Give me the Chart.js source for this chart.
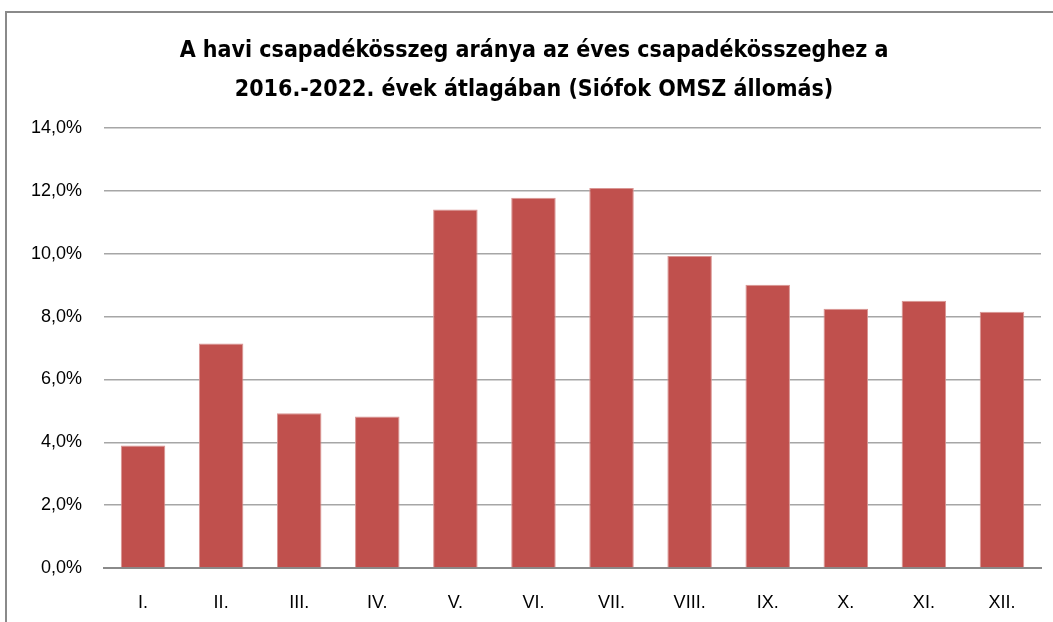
<!DOCTYPE html>
<html>
<head>
<meta charset="utf-8">
<script src="https://cdn.jsdelivr.net/npm/chart.js@4.4.0/dist/chart.umd.min.js"></script>
<style>
  html, body { margin: 0; padding: 0; background: #fff; }
  #wrap { position: relative; width: 1053px; height: 622px; overflow: hidden; }
  #frame { position: absolute; left: 5px; top: 11px; width: 1100px; height: 700px;
           border-left: 2px solid #8a8a8a; border-top: 2px solid #8a8a8a; box-sizing: border-box; }
  canvas { position: absolute; left: 0; top: 0; }
</style>
</head>
<body>
<div id="wrap">
  <div id="frame"></div>
  <canvas id="chartCsapadek" width="1053" height="622"></canvas>
</div>
<script>
const honapok = ['I.', 'II.', 'III.', 'IV.', 'V.', 'VI.', 'VII.', 'VIII.', 'IX.', 'X.', 'XI.', 'XII.'];
const aranyok = [3.90, 7.15, 4.93, 4.82, 11.41, 11.79, 12.10, 9.93, 9.02, 8.25, 8.51, 8.16];
const cim = ['A havi csapadékösszeg aránya az éves csapadékösszeghez a', '2016.-2022. évek átlagában (Siófok OMSZ állomás)'];

const betuCim = "'DejaVu Sans Condensed', 'Open Sans', sans-serif";
const betu = "'Liberation Sans', Arial, sans-serif";

const ctx = document.getElementById('chartCsapadek').getContext('2d');

// a bal padding csak a cím középre igazításához kell, a tengelyfeliratok kilóghatnak
const chartCsapadek = new Chart(ctx, {
    type: 'bar',
    data: {
        labels: honapok,
        datasets: [{
            label: 'Arány',
            data: aranyok,
            backgroundColor: '#C0504D',
            borderColor: '#D99593',
            borderWidth: 1,
            categoryPercentage: 1,
            barPercentage: 0.57
        }]
    },
    options: {
        responsive: false,
        animation: false,
        layout: { padding: { left: 27, right: 12, top: 31, bottom: 0 } },
        plugins: {
            legend: { display: false },
            tooltip: { enabled: false },
            title: {
                display: true,
                text: cim,
                color: '#000',
                font: { family: betuCim, size: 23, weight: 'bold', lineHeight: 1.7 },
                padding: { top: 0, bottom: 19 }
            }
        },
        scales: {
            x: {
                afterFit: (scale) => { scale.height = 54; },
                grid: { display: false, drawTicks: false },
                border: { color: '#8a8a8a', width: 2 },
                ticks: { color: '#000', padding: 24, font: { family: betu, size: 18 } }
            },
            y: {
                min: 0,
                max: 14,
                afterFit: (scale) => { scale.width = 77; },
                grid: { color: '#a6a6a6', lineWidth: 1.5, drawTicks: false },
                border: { display: false },
                ticks: {
                    stepSize: 2,
                    color: '#000',
                    padding: 22,
                    font: { family: betu, size: 18 },
                    callback: (v) => v.toFixed(1).replace('.', ',') + '%'
                }
            }
        }
    }
});
</script>
</body>
</html>
